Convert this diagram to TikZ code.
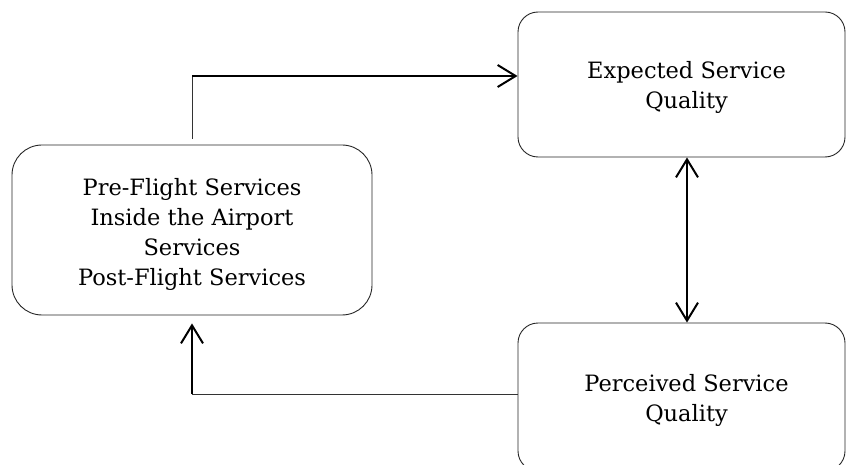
\documentclass[tikz,border=0pt]{standalone}
\usepackage{fontspec}
\setmainfont{DejaVu Serif}
\usetikzlibrary{arrows.meta,calc}
\begin{document}
\begin{tikzpicture}[x=1pt,y=1pt,
  box/.style={draw=black!85,line width=0.9pt,rounded corners=#1,inner sep=0pt},
  txt/.style={align=center,font=\fontsize{22.5}{30}\selectfont,inner sep=0pt},
  thinl/.style={line width=1pt,black!80},
  thickl/.style={line width=2pt,black},
  tip/.style={-{Straight Barb[length=18pt,width=22pt,line width=2pt]}},
  tips/.style={{Straight Barb[length=18pt,width=22pt,line width=2pt]}-{Straight Barb[length=18pt,width=22pt,line width=2pt]}}]
\useasboundingbox (0,0) rectangle (846,464);
\node[box=30pt,minimum width=360pt,minimum height=170pt] (svc) at (192,234) {};
\node[box=20pt,minimum width=327pt,minimum height=145pt] (exp) at (681.5,379.5) {};
\node[box=20pt,minimum width=327pt,minimum height=148pt] (perc) at (681.5,67) {};
\node[txt] (svct) at ([yshift=-4pt]svc.center)
  {Pre-Flight Services\\Inside the Airport\\Services\\Post-Flight Services};
\node[txt] (expt) at ([xshift=5pt,yshift=-3pt]exp.center) {Expected Service\\Quality};
\node[txt] (perct) at ([xshift=5pt,yshift=-3pt]perc.center) {Perceived Service\\Quality};
\coordinate (tc) at (192,388);
\coordinate (bc) at (192,70);
\coordinate (dx) at (687,0);
\draw[thinl] ([yshift=6pt]svc.north) -- (tc);
\draw[thickl,tip] (tc) -- (exp.west |- tc);
\draw[thickl,tips] (exp.south -| dx) -- (perc.north -| dx);
\draw[thinl] (perc.west |- bc) -- (bc);
\draw[thickl,tip] (bc) -- ([yshift=-8pt]svc.south);
\end{tikzpicture}
\end{document}
